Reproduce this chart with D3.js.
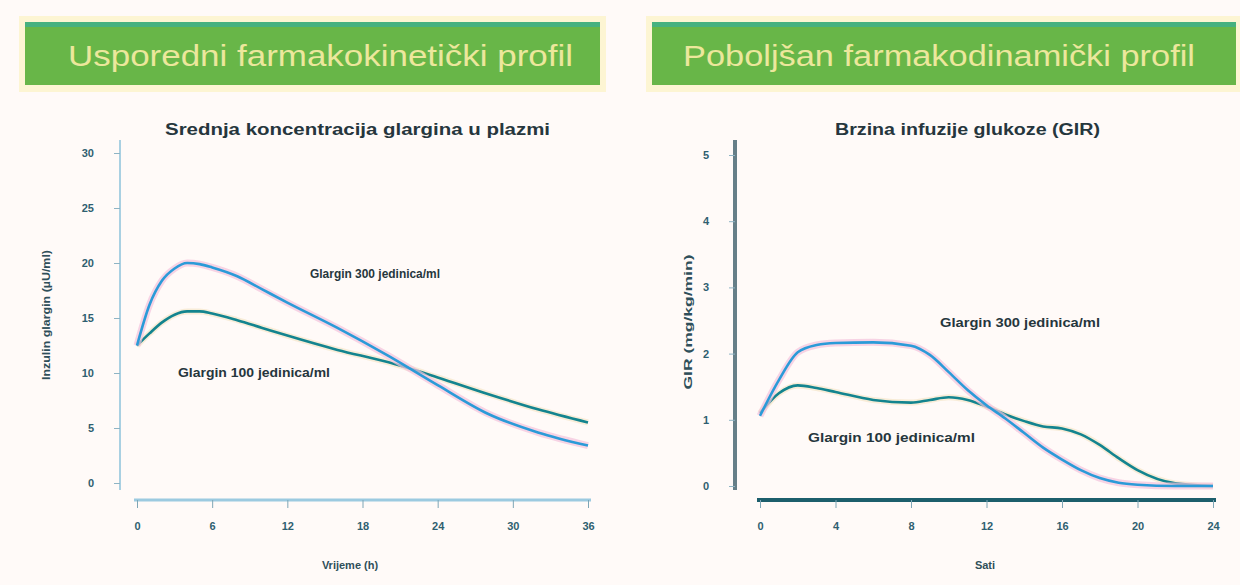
<!DOCTYPE html>
<html>
<head>
<meta charset="utf-8">
<script src="https://cdn.jsdelivr.net/npm/d3@7"></script>
<style>
  html, body { margin: 0; padding: 0; background: #fffaf8; }
  svg { display: block; font-family: "Liberation Sans", Arial, sans-serif; }
</style>
</head>
<body>
<svg id="chart" width="1240" height="585"></svg>
<script>
// Panel titles
const bannerTitles = ["Usporedni farmakokinetički profil", "Poboljšan farmakodinamički profil"];
const subTitles = ["Srednja koncentracija glargina u plazmi", "Brzina infuzije glukoze (GIR)"];
const seriesNames = ["Glargin 300 jedinica/ml", "Glargin 100 jedinica/ml"];

// Pharmacokinetic profile (concentration vs hours)
const pkHours = [0, 1, 2, 3, 4, 5, 6, 8, 10, 12, 16, 20, 24, 28, 32, 36];
const pk300 = [12.5, 16.2, 18.4, 19.5, 20.0, 19.9, 19.6, 18.8, 17.6, 16.4, 14.1, 11.6, 8.9, 6.3, 4.6, 3.4];
const pk100 = [12.5, 13.6, 14.6, 15.3, 15.6, 15.6, 15.4, 14.8, 14.1, 13.4, 12.1, 11.0, 9.6, 8.1, 6.7, 5.5];
const pkYTicks = [0, 5, 10, 15, 20, 25, 30];
const pkXTicks = [0, 6, 12, 18, 24, 30, 36];

// Pharmacodynamic profile (glucose infusion rate vs hours)
const pdHours = [0, 1, 2, 3, 4, 6, 8, 9, 10, 11, 12, 13, 14, 15, 16, 17, 18, 19, 20, 22, 24];
const pd300 = [1.06, 1.6, 2.02, 2.13, 2.16, 2.17, 2.12, 1.98, 1.72, 1.45, 1.22, 1.02, 0.8, 0.58, 0.4, 0.24, 0.12, 0.05, 0.02, 0.0, 0.0];
const pd100 = [1.1, 1.4, 1.52, 1.48, 1.42, 1.3, 1.26, 1.3, 1.34, 1.3, 1.2, 1.08, 0.98, 0.9, 0.87, 0.78, 0.62, 0.42, 0.24, 0.04, 0.0];
const pdYTicks = [0, 1, 2, 3, 4, 5];
const pdXTicks = [0, 4, 8, 12, 16, 20, 24];

const axisTitles = {
  pkY: "Inzulin glargin (µU/ml)", pkX: "Vrijeme (h)",
  pdY: "GIR (mg/kg/min)", pdX: "Sati"
};

const blue = "#2b9bd8", teal = "#13848f", halo = "#f4c2dc";
const svg = d3.select("#chart");

// Green title banners
function banner(x, w, text, tx, tw) {
  svg.append("rect").attr("x", x - 6).attr("y", 16).attr("width", w + 12).attr("height", 76)
    .attr("fill", "#fdf4c9").attr("opacity", 0.8);
  svg.append("rect").attr("x", x).attr("y", 22).attr("width", w).attr("height", 63)
    .attr("fill", "#68b648");
  svg.append("rect").attr("x", x).attr("y", 22).attr("width", w).attr("height", 5)
    .attr("fill", "#46b17f");
  svg.append("text").attr("x", tx).attr("y", 66)
    .attr("font-size", 30).attr("fill", "#ece79c")
    .attr("textLength", tw).attr("lengthAdjust", "spacingAndGlyphs").text(text);
}
banner(25, 575, bannerTitles[0], 68, 505);
banner(652, 584, bannerTitles[1], 683, 512);

function label(g, x, y, text, size, width, anchor) {
  return g.append("text").attr("x", x).attr("y", y).attr("font-size", size)
    .attr("font-weight", "bold").attr("fill", "#26363d")
    .attr("text-anchor", anchor || "start")
    .attr("textLength", width).attr("lengthAdjust", "spacingAndGlyphs").text(text);
}

function drawPanel(cfg) {
  const x = d3.scaleLinear().domain(cfg.xDomain).range(cfg.xRange);
  const y = d3.scaleLinear().domain(cfg.yDomain).range(cfg.yRange);
  const g = svg.append("g");

  label(g, cfg.sub[1], 135, cfg.sub[0], 16, cfg.sub[2]);

  // y axis
  const ya = g.append("g").attr("transform", `translate(${cfg.yAxisX},0)`)
    .call(d3.axisLeft(y).tickValues(cfg.yTicks).tickFormat(d3.format("d"))
      .tickSize(6).tickPadding(cfg.yPad));
  ya.select(".domain").attr("stroke", cfg.yAxisColor).attr("stroke-width", cfg.yAxisWidth)
    .attr("d", `M0,${cfg.yAxisTop}V${cfg.yAxisBottom}`);
  ya.selectAll(".tick line").attr("stroke", "#8fb4c4");
  ya.selectAll(".tick text").attr("font-size", 11).attr("font-weight", "bold").attr("fill", "#2f5f70");

  // x axis
  const xa = g.append("g").attr("transform", `translate(0,${cfg.xAxisY})`)
    .call(d3.axisBottom(x).tickValues(cfg.xTicks).tickSize(8).tickPadding(14));
  xa.select(".domain").attr("stroke", cfg.xAxisColor).attr("stroke-width", cfg.xAxisWidth)
    .attr("d", `M${cfg.xRange[0] - 3},0H${cfg.xRange[1] + 3}`);
  xa.selectAll(".tick line").attr("stroke", "#7fa6b6");
  xa.selectAll(".tick text").attr("font-size", 11).attr("font-weight", "bold").attr("fill", "#2f5f70");

  // axis titles
  g.append("text").attr("transform", `translate(${cfg.yTitle[1]},${cfg.yTitle[2]}) rotate(-90)`)
    .attr("text-anchor", "middle").attr("font-size", 10).attr("font-weight", "bold")
    .attr("fill", "#2f4f5a").attr("textLength", cfg.yTitle[3]).attr("lengthAdjust", "spacingAndGlyphs")
    .text(cfg.yTitle[0]);
  g.append("text").attr("x", cfg.xTitleX).attr("y", 569).attr("text-anchor", "middle")
    .attr("font-size", 11).attr("font-weight", "bold").attr("fill", "#2f4f5a").text(cfg.xTitle);

  const line = d3.line().x((d, i) => x(cfg.hours[i])).y(d => y(d)).curve(d3.curveMonotoneX);

  // series 100 (teal) then series 300 (blue), each with a soft halo
  g.append("path").attr("d", line(cfg.s100)).attr("fill", "none")
    .attr("stroke", "#f3e3c2").attr("stroke-width", 6).attr("opacity", 0.6);
  g.append("path").attr("d", line(cfg.s100)).attr("fill", "none")
    .attr("stroke", teal).attr("stroke-width", 2.6);
  g.append("path").attr("d", line(cfg.s300)).attr("fill", "none")
    .attr("stroke", halo).attr("stroke-width", 7).attr("opacity", 0.7);
  g.append("path").attr("d", line(cfg.s300)).attr("fill", "none")
    .attr("stroke", blue).attr("stroke-width", 2.6);

  // series labels
  label(g, cfg.lab300[0], cfg.lab300[1], seriesNames[0], 12, cfg.lab300[2]);
  label(g, cfg.lab100[0], cfg.lab100[1], seriesNames[1], 12, cfg.lab100[2]);
}

drawPanel({
  sub: [subTitles[0], 165, 385],
  xDomain: [0, 36], xRange: [137, 588],
  yDomain: [0, 30], yRange: [483, 153],
  xTicks: pkXTicks, yTicks: pkYTicks,
  yAxisX: 120, yAxisTop: 140, yAxisBottom: 490, yPad: 20,
  yAxisColor: "#a9d0e2", yAxisWidth: 2,
  xAxisY: 500, xAxisColor: "#9ccae0", xAxisWidth: 3,
  yTitle: [axisTitles.pkY, 50, 315, 130],
  xTitleX: 350, xTitle: axisTitles.pkX,
  hours: pkHours, s300: pk300, s100: pk100,
  lab300: [310, 278, 130], lab100: [178, 377, 152]
});

drawPanel({
  sub: [subTitles[1], 835, 265],
  xDomain: [0, 24], xRange: [760, 1213],
  yDomain: [0, 5], yRange: [486, 155],
  xTicks: pdXTicks, yTicks: pdYTicks,
  yAxisX: 735, yAxisTop: 140, yAxisBottom: 490, yPad: 20,
  yAxisColor: "#667f88", yAxisWidth: 4,
  xAxisY: 500, xAxisColor: "#1c5e6c", xAxisWidth: 4,
  yTitle: [axisTitles.pdY, 692, 322, 135],
  xTitleX: 985, xTitle: axisTitles.pdX,
  hours: pdHours, s300: pd300, s100: pd100,
  lab300: [940, 327, 160], lab100: [808, 442, 167]
});
</script>
</body>
</html>
